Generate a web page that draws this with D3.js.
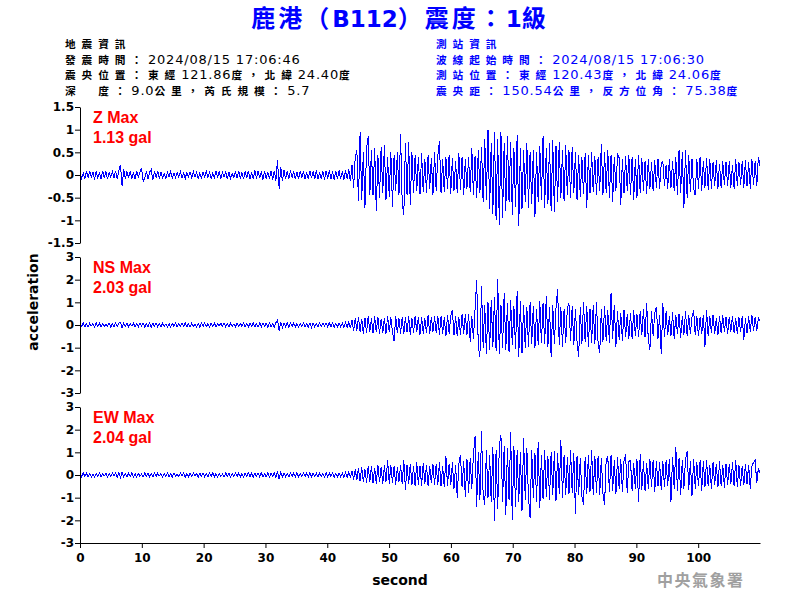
<!DOCTYPE html>
<html><head><meta charset="utf-8">
<script src="https://cdn.jsdelivr.net/npm/d3@7"></script>
<style>html,body{margin:0;padding:0;background:#fff;} svg{display:block;} text{white-space:pre;}</style>
</head><body><svg id="chart" width="800" height="600"></svg>
<script>
// ---------------- data ----------------
const titleText = "鹿港（B112）震度：1級";
const quakeInfo = ["地震資訊", "發震時間：2024/08/15 17:06:46", "震央位置：東經121.86度，北緯24.40度", "深　度：9.0公里，芮氏規模：5.7"];
const stationInfo = ["測站資訊", "波線起始時間：2024/08/15 17:06:30", "測站位置：東經120.43度，北緯24.06度", "震央距：150.54公里，反方位角：75.38度"];
const channelNames = ["Z", "NS", "EW"];
const maxLabels = ["Z Max", "NS Max", "EW Max"];
const peakLabels = ["1.13 gal", "2.03 gal", "2.04 gal"];
const zTicks = [-1.5, -1, -0.5, 0, 0.5, 1, 1.5];
const horizTicks = [-3, -2, -1, 0, 1, 2, 3];
const xTicks = [0, 10, 20, 30, 40, 50, 60, 70, 80, 90, 100];
const recordStart = 0, recordEnd = 110;   // seconds
const xLabel = "second", yLabel = "acceleration";
const agencyText = "中央氣象署";

const zTrace = [
6,-8,4,-9,8,-6,9,-4,6,-10,8,-6,4,-8,9,-6,8,-9,6,-4,
8,-6,9,-8,10,22,-24,12,-9,8,-6,9,-8,6,-9,8,-4,6,15,-14,
-6,8,-9,6,12,-11,8,-6,9,-8,6,-6,4,-8,6,-4,8,-6,4,-6,
6,-4,8,-6,4,-8,6,-4,6,-6,8,-4,6,-8,4,-6,6,-4,8,-6,
6,-8,4,-6,8,-6,9,-8,6,-4,8,-9,6,-8,4,-6,8,-6,9,-8,
6,-9,8,-6,9,-8,6,-9,10,-8,9,-6,8,-10,9,-8,6,-9,8,-10,
9,-12,33,-30,18,-14,10,-9,9,-8,10,-6,8,-9,6,-8,9,-6,8,-9,
6,-8,9,-6,8,-9,10,-8,6,-9,8,-10,9,-8,10,-9,8,-10,9,-8,
10,-9,8,-11,10,-9,12,-14,22,-28,40,55,-58,95,-55,50,-72,60,85,-45,
55,-45,60,-80,45,-50,62,-40,66,-55,40,-48,50,-70,45,-35,50,-45,90,-60,
-88,70,-45,72,-66,50,-40,45,-35,40,-42,48,-38,35,-40,45,-30,38,-44,50,
-35,42,75,-40,35,-38,40,-30,45,-42,38,-35,30,-40,48,-32,40,-45,35,-30,
40,-38,60,-45,42,-50,55,-40,62,-60,80,-55,100,-75,70,-85,95,-100,80,-110,
95,-95,70,-80,85,-60,72,-88,60,-70,88,-113,60,-75,55,-60,70,-72,50,-65,
55,-92,50,-60,65,-55,85,-72,60,-65,70,-80,77,-82,65,-60,73,-50,55,-58,
66,-45,55,-50,62,-40,50,-55,45,-48,40,-42,48,-73,45,-40,50,-38,42,-45,
40,-35,68,-45,50,-40,55,-50,45,-60,40,-35,45,38,-66,35,-40,42,-35,45,
-45,40,-55,35,-50,45,-40,38,-35,30,-42,35,-30,28,-35,32,-28,35,-30,25,
30,-25,22,-30,35,-28,30,-35,40,-45,55,-40,50,-72,55,-50,45,-38,35,-30,
-45,35,-30,40,-35,30,-28,38,-32,35,-30,28,-25,32,-30,25,-28,30,-22,28,
-25,30,-28,22,-30,35,-25,28,-22,30,-28,32,-25,28,-30,35,-22,30,-25,40,20];

const nsTrace = [
8,-6,9,-8,6,-9,8,-4,6,-8,9,-6,8,-9,6,-8,4,-6,8,-9,
6,-8,9,-6,8,12,-14,8,-6,9,-8,6,-4,8,-9,6,-8,9,-6,8,
-9,6,-8,10,-9,8,-6,9,-8,6,-9,8,-6,4,-8,6,-9,8,-6,9,
-8,6,-4,8,-6,9,-8,6,-9,8,-6,4,-8,6,-9,8,-6,9,-8,6,
-9,8,-6,9,-8,6,-4,8,-6,9,-8,6,-9,8,-6,4,-8,9,-6,8,
-6,9,-8,6,-9,8,-6,9,-8,6,-9,10,-8,9,-6,8,-10,9,-8,6,
-9,10,22,-24,14,-12,9,-8,10,-9,8,-6,9,-8,6,-9,8,-6,9,-8,
6,-9,8,-10,9,-8,6,-9,10,-8,9,-6,8,-9,10,-8,9,-10,8,-9,
10,-8,9,-11,10,-12,14,-15,20,-28,30,-25,35,-30,28,-40,32,-35,38,-30,
30,-35,38,-32,35,-40,28,-35,32,-38,40,-30,35,-33,-70,40,-35,30,-38,35,
-40,35,-32,38,-45,30,-35,40,-30,35,-42,33,-38,30,-35,42,-40,35,-30,38,
-35,40,-45,38,-40,35,-50,45,-38,42,66,-45,40,-50,35,-42,48,-40,50,-45,
50,-73,40,-60,70,198,-90,-140,170,-100,90,-130,100,-110,110,-95,125,-115,203,-130,
90,-100,140,-110,95,-120,110,-90,85,-105,150,-140,105,-125,90,-100,80,-95,100,-85,
85,-100,70,-90,105,-80,95,-85,130,-95,80,-140,90,-85,75,160,-90,80,-95,70,
-80,75,95,-70,85,-90,70,-75,-140,80,-85,100,-75,85,-95,70,-80,90,-85,100,
-80,-125,70,-75,85,-70,65,-80,140,-60,90,-95,60,-65,55,-70,65,-55,50,-60,
55,-60,65,-50,48,-55,60,-45,70,-55,95,-65,-110,60,-50,55,80,-60,45,-130,
95,-55,60,-45,40,-50,55,-60,45,-40,50,-55,40,-45,60,-50,45,-40,35,66,
-45,40,-50,35,-40,45,-95,66,-50,40,-35,45,-40,30,-45,38,-35,42,-30,35,
-40,35,-30,40,-35,30,-38,35,-32,40,-66,30,-35,38,-30,45,-28,35,-25,30,20];

const ewTrace = [
6,-8,9,-6,8,-9,6,-8,4,-9,8,-6,9,-8,6,-4,8,-9,6,-8,
9,-6,8,-9,10,-12,13,-8,6,-9,8,-6,9,-8,6,-9,8,-6,4,-8,
9,-6,8,-9,6,-8,9,-6,8,-4,6,-9,8,-6,9,-8,6,-9,8,-6,
4,-8,9,-6,8,-9,6,-8,9,-6,8,-4,6,-9,8,-6,9,-8,6,-9,
8,-6,9,-8,6,-9,8,-6,4,-8,9,-6,8,-9,6,-8,9,-6,8,-9,
6,-8,9,-6,10,-8,9,-9,8,-6,9,-8,10,-9,6,-8,9,-10,8,-6,
9,-10,16,-18,12,-10,9,-8,6,-9,8,-6,9,-8,10,-9,6,-8,9,-6,
8,-9,10,-8,9,-6,8,-10,9,-8,6,-9,10,-9,8,-6,9,-10,8,-9,
10,-9,8,-10,12,-11,14,-12,18,-20,25,-22,30,-28,35,-30,25,-35,38,-32,
40,-35,30,-38,45,-32,35,-40,42,-30,66,-38,45,-35,40,-42,35,-30,45,-40,
66,-66,45,-40,50,-45,38,-50,55,-42,40,-48,52,-38,45,-50,40,-35,48,-45,
50,-45,55,-50,40,-55,84,-48,50,-45,55,-60,45,-100,50,88,-55,60,-95,70,
-80,73,-60,90,170,-140,100,-110,194,-90,-130,110,-100,90,-120,125,-204,110,-150,130,
176,-120,130,-176,120,-110,190,-200,130,-140,110,-120,100,-160,165,-110,120,-100,-190,110,
-100,95,-120,147,-147,90,-105,110,-95,85,-110,100,-90,105,-115,95,-85,155,-100,90,
-90,80,-85,110,-80,95,-170,85,-90,75,-95,-132,80,-85,90,-75,110,-90,85,-80,
85,-90,75,-80,-132,70,80,-75,90,-70,65,-85,80,-60,70,-75,60,91,-80,60,
65,-70,55,-60,70,-120,91,-65,60,-70,55,-60,70,-55,65,-75,60,-50,55,-65,
60,-55,65,-50,70,-120,80,-60,125,-70,75,-88,65,-60,70,106,-65,60,-93,70,
-60,55,-50,65,-70,60,-55,66,-50,45,-60,55,-45,50,-55,60,-50,45,-55,50,
-45,50,-40,55,-50,66,-55,45,-50,40,-45,50,-40,45,-60,40,55,66,-35,30,10];

// ---------------- drawing ----------------
const svg = d3.select("#chart");
const CJK_RE = /([\u2E80-\u9FFF\u3000-\u303F\uFF00-\uFFEF]+)/;
function mixedText(sel, str, cjk, latin) {
  str.split(CJK_RE).filter(s => s.length).forEach(p => {
    const st = /[\u2E80-\u9FFF\u3000-\u303F\uFF00-\uFFEF]/.test(p) ? cjk : latin;
    sel.append("tspan").text(p)
      .attr("font-family", st.family).attr("font-size", st.size)
      .attr("font-weight", st.weight || "normal")
      .attr("letter-spacing", st.ls || 0);
  });
}

// title
const title = svg.append("text").attr("x", 400).attr("y", 27).attr("text-anchor", "middle").attr("fill", "#0000ff");
mixedText(title, titleText,
  {family: "'Noto Sans CJK TC'", size: 24, weight: "bold", ls: 3},
  {family: "'DejaVu Sans'", size: 23, weight: "bold"});

// header blocks
const headerBase = [48, 63.5, 79, 94.5];
const cjkHead = {family: "'Noto Sans CJK TC'", size: 10.7, ls: 5.9, weight: "bold"};
const latHead = {family: "'DejaVu Sans'", size: 13, ls: 0.8};
quakeInfo.forEach((s, i) => {
  const t = svg.append("text").attr("x", 65).attr("y", headerBase[i]).attr("fill", "#000");
  mixedText(t, s, cjkHead, latHead);
});
stationInfo.forEach((s, i) => {
  const t = svg.append("text").attr("x", 436).attr("y", headerBase[i]).attr("fill", "#0000ff");
  mixedText(t, s, cjkHead, latHead);
});

const x = d3.scaleLinear().domain([recordStart, recordEnd]).range([80, 760]);
const panels = [
  {trace: zTrace, domain: [-1.5, 1.5], ticks: zTicks, top: 107, bottom: 243},
  {trace: nsTrace, domain: [-3, 3], ticks: horizTicks, top: 257, bottom: 393},
  {trace: ewTrace, domain: [-3, 3], ticks: horizTicks, top: 407, bottom: 543}
];

function styleAxis(g) {
  g.attr("font-family", "'DejaVu Sans'").attr("font-size", 12).attr("font-weight", "bold");
  g.selectAll("path,line").attr("stroke", "#000");
  g.selectAll("text").attr("fill", "#000");
}

panels.forEach((p, k) => {
  const y = d3.scaleLinear().domain(p.domain).range([p.bottom, p.top]);
  const n = p.trace.length;
  const time = i => recordStart + i * (recordEnd - recordStart) / (n - 1);
  const line = d3.line().x((d, i) => x(time(i))).y(d => y(d / 100));
  svg.append("path").datum(p.trace).attr("d", line)
    .attr("fill", "none").attr("stroke", "#0000ff").attr("stroke-width", 1)
    .attr("shape-rendering", "crispEdges");

  const ax = svg.append("g").attr("transform", "translate(80,0)")
    .call(d3.axisLeft(y).tickValues(p.ticks).tickSize(5).tickSizeOuter(0).tickPadding(1).tickFormat(d => String(d)));
  styleAxis(ax);

  svg.append("text").attr("x", 93).attr("y", p.top + 16).text(maxLabels[k])
    .attr("fill", "#ff0000").attr("font-family", "'Liberation Sans'").attr("font-weight", "bold").attr("font-size", 16);
  svg.append("text").attr("x", 93).attr("y", p.top + 36).text(peakLabels[k])
    .attr("fill", "#ff0000").attr("font-family", "'Liberation Sans'").attr("font-weight", "bold").attr("font-size", 16);
});

const xa = svg.append("g").attr("transform", "translate(0,543)")
  .call(d3.axisBottom(x).tickValues(xTicks).tickSize(5).tickSizeOuter(0).tickPadding(5).tickFormat(d => String(d)));
styleAxis(xa);

svg.append("text").attr("x", 400).attr("y", 585).attr("text-anchor", "middle").text(xLabel)
  .attr("font-family", "'DejaVu Sans'").attr("font-weight", "bold").attr("font-size", 14);
svg.append("text").attr("transform", "translate(38,302) rotate(-90)").attr("text-anchor", "middle").text(yLabel)
  .attr("font-family", "'DejaVu Sans'").attr("font-weight", "bold").attr("font-size", 14);

svg.append("text").attr("x", 657).attr("y", 586).text(agencyText)
  .attr("fill", "#a0a0a0").attr("font-family", "'Noto Sans CJK TC'").attr("font-size", 16)
  .attr("font-weight", "bold").attr("letter-spacing", 1.5);
</script></body></html>
